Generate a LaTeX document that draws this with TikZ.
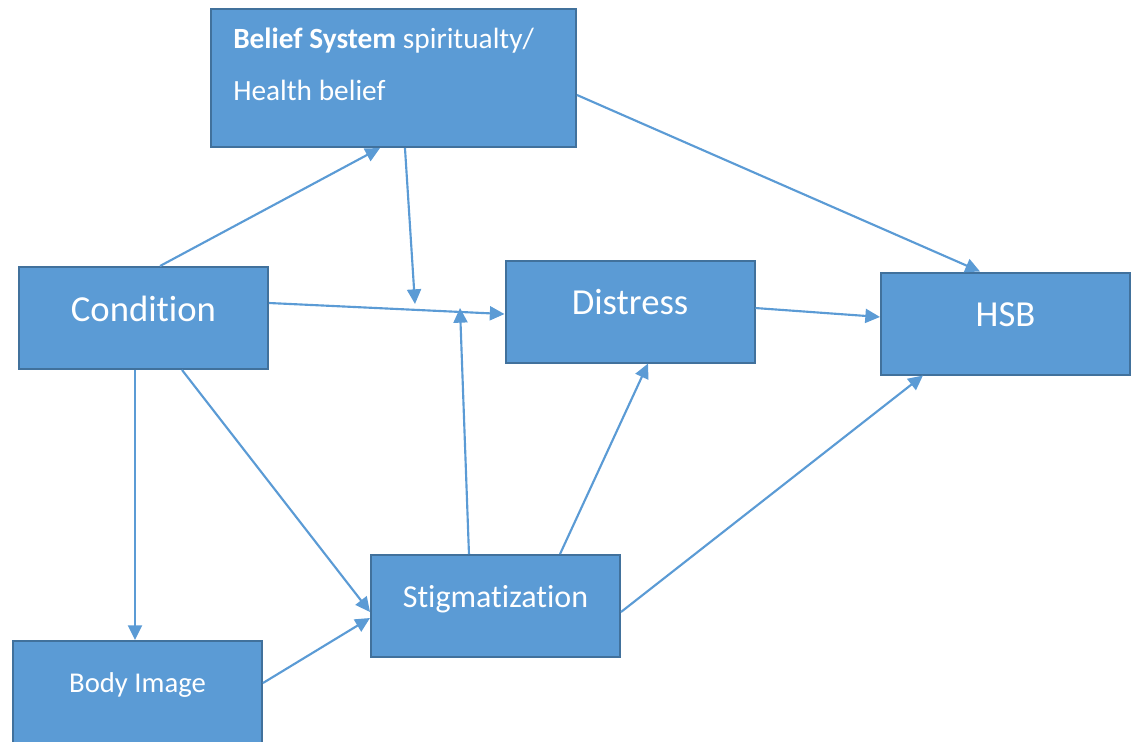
\documentclass[tikz,border=0pt]{standalone}
\usepackage{fontspec}
\setmainfont{Carlito}[Ligatures=NoCommon]
\usetikzlibrary{arrows.meta}
\definecolor{boxfill}{HTML}{5B9BD5}
\definecolor{boxline}{HTML}{41719C}

\begin{document}
\begin{tikzpicture}[x=0.75pt,y=-0.75pt,
  box/.style={draw=boxline,fill=boxfill,line width=1.5pt,text=white,minimum width=186.75pt,minimum height=76.5pt,inner sep=0pt,text depth=14pt},
  link/.style={draw=boxfill,line width=1.6pt,-{Triangle[length=11pt,width=10.5pt]}}]
  \useasboundingbox (0,0) rectangle (1135,742);
  \clip (0,0) rectangle (1135,742);
  \node[box,minimum width=273.75pt,minimum height=103.5pt] (belief) at (393.5,78) {};
  \node[anchor=base west,inner sep=0pt,align=left,text=white,font=\fontsize{22}{39}\selectfont] (beliefText) at (233,100) {\textbf{Belief System} spiritualty/\\Health belief};
  \node[box,font=\fontsize{27.5}{33}\selectfont] (condition) at (143.5,318) {Condition};
  \node[box,font=\fontsize{27.5}{33}\selectfont] (distress) at (630,311.5) {Distress};
  \node[box,font=\fontsize{27.5}{33}\selectfont] (hsb) at (1005.5,323.5) {HSB};
  \node[box,font=\fontsize{24}{29}\selectfont] (stigma) at (495.5,606) {Stigmatization};
  \node[box,font=\fontsize{21.5}{26}\selectfont] (bodyImage) at (137.5,692) {Body Image};
  \coordinate (beliefEnd) at (415,304);
  \coordinate (stigmaEnd) at (460,308);
  \draw[link] ([xshift=12.4pt]condition.north) -- ([xshift=-10.1pt]belief.south);
  \draw[link] ([xshift=8.6pt]belief.south) -- (beliefEnd);
  \draw[link] ([yshift=-12.75pt]belief.east) -- ([xshift=-19.1pt]hsb.north);
  \draw[link] ([yshift=11.25pt]condition.east) -- ([yshift=-1.9pt]distress.west);
  \draw[link] ([yshift=2.6pt]distress.east) -- ([yshift=4.9pt]hsb.west);
  \draw[link] ([xshift=-6.4pt]condition.south) -- ([xshift=-1.9pt]bodyImage.north);
  \draw[link] ([xshift=28.9pt]condition.south) -- ([yshift=-4.5pt]stigma.west);
  \draw[link] ([yshift=6.75pt]bodyImage.east) -- ([yshift=-9pt]stigma.west);
  \draw[link] ([xshift=-19.9pt]stigma.north) -- (stigmaEnd);
  \draw[link] ([xshift=48.4pt]stigma.north) -- ([xshift=13.5pt]distress.south);
  \draw[link] ([yshift=-4.5pt]stigma.east) -- ([xshift=-61.9pt]hsb.south);
\end{tikzpicture}
\end{document}
